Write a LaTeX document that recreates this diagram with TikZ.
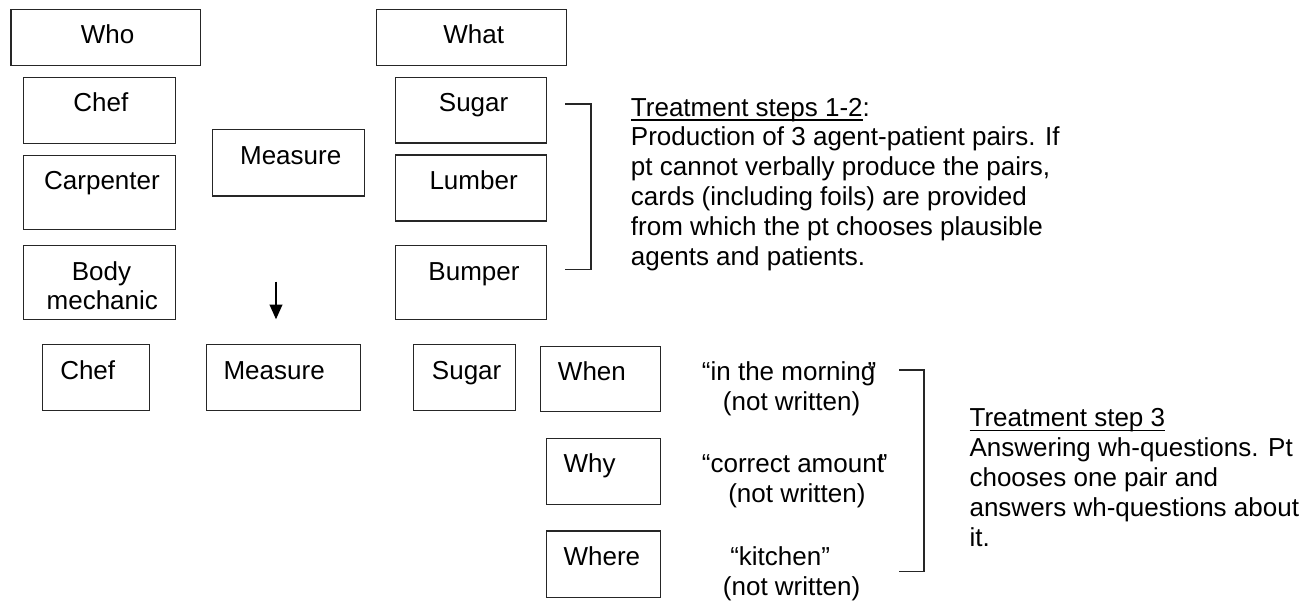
\documentclass[tikz,border=0pt]{standalone}
\usepackage{fontspec}
\setmainfont{Liberation Sans}
\usetikzlibrary{arrows.meta}
\newcommand\ulin[1]{\setbox0\hbox{#1}\rlap{\rule[-3.4pt]{\wd0}{1.0pt}}\box0}
\newcommand\mybox[5]{\node[box, minimum width={(#4-#2)*0.75pt}, minimum height={(#5-#3)*0.75pt}] (#1) at ({(#2+#4)/2},{(#3+#5)/2}) {};}
\begin{document}
\begin{tikzpicture}[x=0.75pt,y=-0.75pt,
  box/.style={draw=black!85, line width=1.1pt, rectangle, inner sep=0pt, fill=none},
  txt/.style={inner sep=0pt, font=\fontsize{19.5}{22.35}\selectfont, text=black},
  ctxt/.style={txt, anchor=base},
  ltxt/.style={txt, anchor=base west},
  brk/.style={draw=black!85, line width=1.1pt},
  arr/.style={draw=black, line width=1.2pt, -{Triangle[width=9.5pt,length=11pt]}}]
\useasboundingbox (0,0) rectangle (1316,601);
% boxes
\mybox{who}{11}{9.3}{200.7}{65.3}
\mybox{what}{376.3}{9.3}{566.3}{65.3}
\mybox{chefA}{23.7}{77.7}{175.7}{143.3}
\mybox{carp}{23.7}{155.3}{175.7}{229.3}
\mybox{body}{23.7}{245.7}{175.7}{319.3}
\mybox{measA}{212.3}{129.7}{364.7}{196}
\mybox{sugarA}{395.3}{77.7}{546.7}{143}
\mybox{lumber}{395.3}{155}{546.7}{221}
\mybox{bumper}{395.3}{245.7}{546.7}{319.3}
\mybox{chefB}{42.3}{344.7}{149.7}{410.3}
\mybox{measB}{206.3}{344.7}{360.7}{410.3}
\mybox{sugarB}{413.3}{344.7}{515.3}{410.7}
\mybox{when}{540.3}{346.7}{660.3}{411.7}
\mybox{why}{546.7}{438.7}{660.3}{504.7}
\mybox{where}{546.7}{531}{660.3}{597.3}
% box texts
\node[ctxt] (twho) at (107.5,43.3) {Who};
\node[ctxt] (twhat) at (473.7,43.3) {What};
\node[ctxt] (tchefA) at (100.8,111) {Chef};
\node[ctxt] (tcarp) at (102,189.3) {Carpenter};
\node[ctxt] (tbody1) at (101.5,280) {Body};
\node[ctxt] (tbody2) at (102.3,309.3) {mechanic};
\node[ctxt] (tmeasA) at (290.7,164) {Measure};
\node[ctxt] (tsugarA) at (473.6,111) {Sugar};
\node[ctxt] (tlumber) at (473.6,189.3) {Lumber};
\node[ctxt] (tbumper) at (474,280) {Bumper};
\node[ltxt] (tchefB) at (60,379.3) {Chef};
\node[ltxt] (tmeasB) at (223.3,379.3) {Measure};
\node[ltxt] (tsugarB) at (431.7,379.3) {Sugar};
\node[ltxt] (twhen) at (557.7,380.7) {When};
\node[ltxt] (twhy) at (563.3,472.7) {Why};
\node[ltxt] (twhere) at (563.3,565.3) {Where};
% answers
\node[ltxt] (q1) at (701.7,380.7) {“in the morning\kern-0.3em”};
\node[ltxt] (q1b) at (722.7,410.5) {(not written)};
\node[ltxt] (q2) at (701.7,472.7) {“correct amount\kern-0.2em”};
\node[ltxt] (q2b) at (728,502.5) {(not written)};
\node[ltxt] (q3) at (730,565.3) {“kitchen”};
\node[ltxt] (q3b) at (722.7,595.1) {(not written)};
% paragraph 1
\node[ltxt] (p1) at (630.7,116) {\ulin{Treatment steps 1-2}:};
\node[ltxt] (p2) at (630.7,145.8) {Production of 3 agent-patient pairs. If};
\node[ltxt] (p3) at (630.7,175.6) {pt cannot verbally produce the pairs,};
\node[ltxt] (p4) at (630.7,205.4) {cards (including foils) are provided};
\node[ltxt] (p5) at (630.7,235.2) {from which the pt chooses plausible};
\node[ltxt] (p6) at (630.7,265) {agents and patients.};
% paragraph 2
\node[ltxt] (s1) at (969.3,426.7) {\ulin{Treatment step 3}};
\node[ltxt] (s2) at (969.3,456.7) {Answering wh-questions. Pt};
\node[ltxt] (s3) at (969.3,486.7) {chooses one pair and};
\node[ltxt] (s4) at (969.3,516.7) {answers wh-questions about};
\node[ltxt] (s5) at (969.3,546.7) {it.};
% brackets
\coordinate (b1a) at (565,104);
\coordinate (b1b) at (591,104);
\coordinate (b1c) at (591,269.3);
\coordinate (b1d) at (565,269.3);
\draw[brk] (b1a) -- (b1b) -- (b1c) -- (b1d);
\coordinate (b2a) at (899.3,370);
\coordinate (b2b) at (924,370);
\coordinate (b2c) at (924,571.7);
\coordinate (b2d) at (899.3,571.7);
\draw[brk] (b2a) -- (b2b) -- (b2c) -- (b2d);
% arrow
\coordinate (ar1) at (276,281.7);
\coordinate (ar2) at (276,319.3);
\draw[arr] (ar1) -- (ar2);
\end{tikzpicture}
\end{document}
